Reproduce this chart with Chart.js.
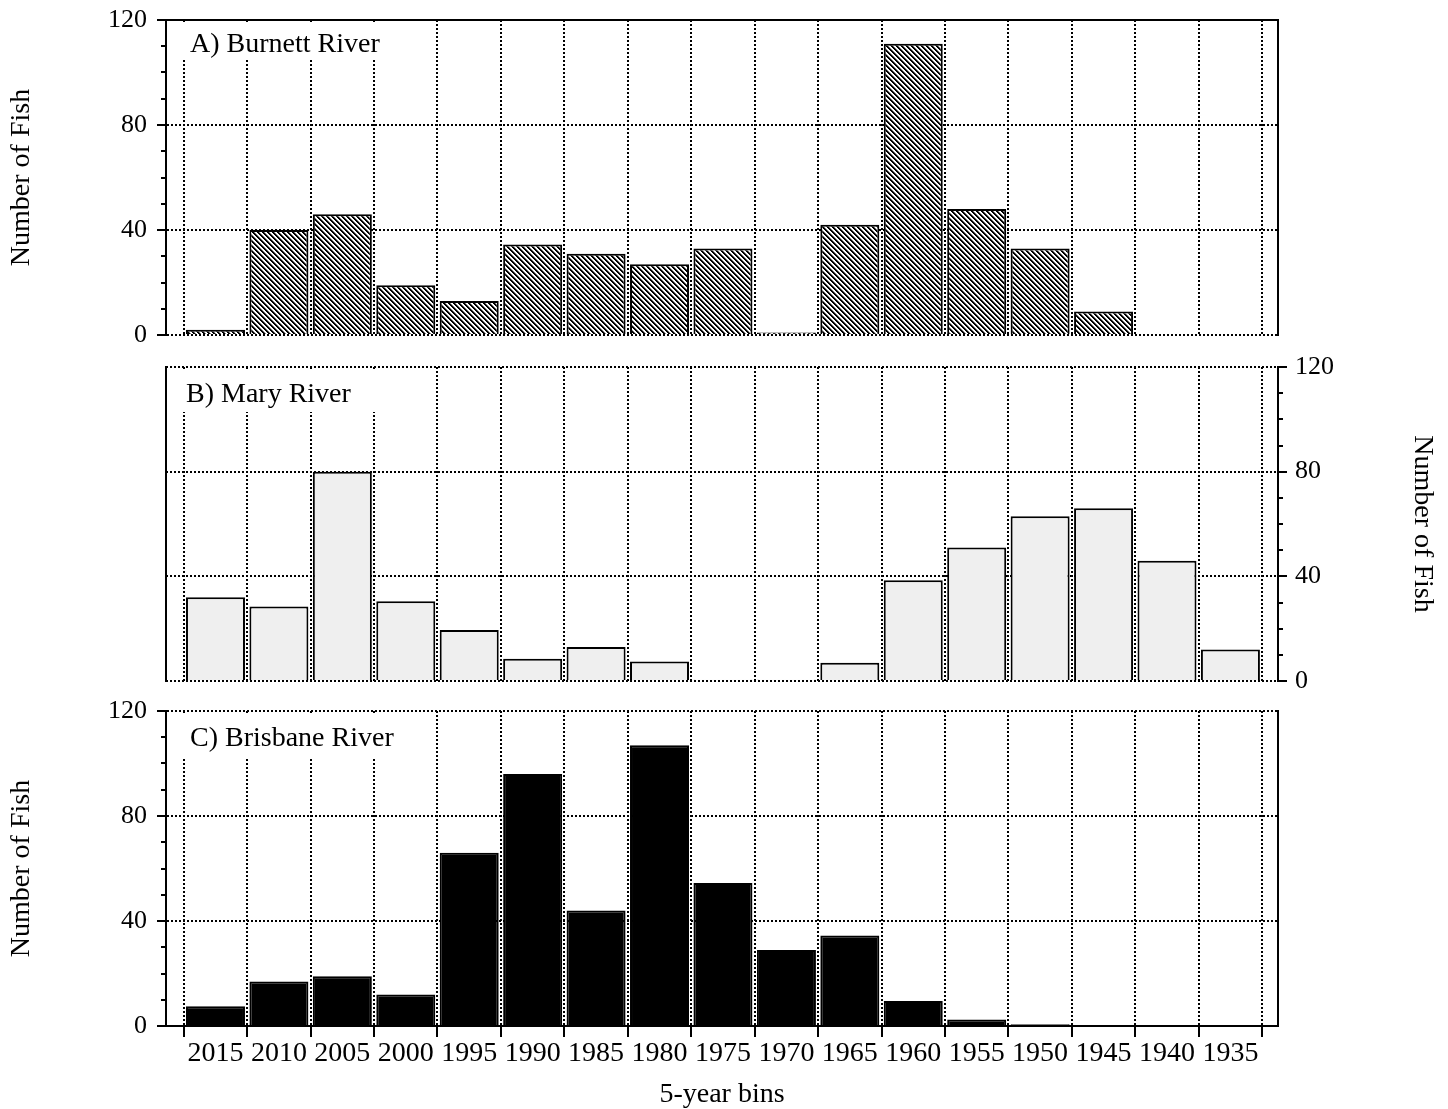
<!DOCTYPE html>
<html>
<head>
<meta charset="utf-8">
<script src="https://cdn.jsdelivr.net/npm/chart.js@4/dist/chart.umd.min.js"></script>
<style>
  body { margin: 0; background: #fff; width: 1448px; height: 1109px; position: relative; overflow: hidden; }
  canvas { position: absolute; left: 0; }
</style>
</head>
<body>
<canvas id="chartA" width="1448" height="395" style="top:-20px"></canvas>
<canvas id="chartB" width="1448" height="394" style="top:327px"></canvas>
<canvas id="chartC" width="1448" height="438" style="top:671px"></canvas>
<script>
// 5-year bins, newest first
const bins = ["2015", "2010", "2005", "2000", "1995", "1990", "1985", "1980", "1975",
  "1970", "1965", "1960", "1955", "1950", "1945", "1940", "1935"];
const burnett = [2, 40, 46, 19, 13, 34.5, 31, 27, 33, 1, 42, 111, 48, 33, 9, 0.4, 0.4];
const mary = [32, 28.5, 80, 30.5, 19.5, 8.5, 13, 7.5, 0.5, 0.5, 7, 38.5, 51, 63, 66, 46, 12];
const brisbane = [7.5, 17, 19, 12, 66, 96, 44, 107, 54.5, 29, 34.5, 9.5, 2.5, 0.7, 0, 0, 0];
const yMax = 120;

Chart.defaults.font.family = "'Liberation Serif', 'Times New Roman', serif";
Chart.defaults.font.size = 28;
Chart.defaults.color = "#000";

// diagonal hatching for the Burnett bars
function hatch() {
  const c = document.createElement("canvas");
  c.width = 5; c.height = 5;
  const g = c.getContext("2d");
  g.fillStyle = "#fff";
  g.fillRect(0, 0, 5, 5);
  for (let y = 0; y < 5; y++) {
    for (let x = 0; x < 5; x++) {
      const d = ((x - y) % 5 + 5) % 5;
      if (d < 2) { g.fillStyle = "#000"; g.fillRect(x, y, 1, 1); }
      else if (d === 2) { g.fillStyle = "#808080"; g.fillRect(x, y, 1, 1); }
    }
  }
  return g.createPattern(c, "repeat");
}

// panel label, solid frame edges and the tick marks
function framePlugin(cfg) {
  return {
    id: "frame",
    beforeDatasetsDraw(chart) {
      const { ctx, chartArea: a } = chart;
      ctx.save();
      ctx.fillStyle = "#fff";
      ctx.fillRect(a.left + 3, a.top + 2, 240, cfg.boxH);
      ctx.fillStyle = "#000";
      ctx.font = "28px 'Liberation Serif'";
      ctx.textBaseline = "alphabetic";
      ctx.fillText(cfg.title, a.left + cfg.titleX, a.top + cfg.titleY);
      ctx.restore();
    },
    afterDraw(chart) {
      const { ctx, chartArea: a, scales } = chart;
      ctx.save();
      ctx.strokeStyle = "#000";
      ctx.lineWidth = 2;
      ctx.beginPath();
      cfg.edges.forEach((e) => {
        if (e === "top") { ctx.moveTo(a.left - 1, a.top); ctx.lineTo(a.right + 1, a.top); }
        if (e === "left") { ctx.moveTo(a.left, a.top - 1); ctx.lineTo(a.left, a.bottom + 1); }
        if (e === "right") { ctx.moveTo(a.right, a.top - 1); ctx.lineTo(a.right, a.bottom + 1); }
      });
      for (let v = 0; v <= yMax; v += 10) {
        const py = Math.round(scales.y.getPixelForValue(v));
        const len = v % 40 === 0 ? 9 : 5;
        if (cfg.side === "left") { ctx.moveTo(a.left - len, py); ctx.lineTo(a.left, py); }
        else { ctx.moveTo(a.right, py); ctx.lineTo(a.right + len, py); }
      }
      if (cfg.xTicks) {
        for (let i = 0; i <= bins.length; i++) {
          const px = Math.round(scales.x.getPixelForValue(i));
          ctx.moveTo(px, a.bottom); ctx.lineTo(px, a.bottom + 11);
        }
      }
      ctx.stroke();
      ctx.restore();
    }
  };
}

function makePanel(id, values, fill, cfg) {
  const points = values.map((v, i) => ({ x: i + 0.5, y: v }));
  const left = cfg.side === "left";
  return new Chart(document.getElementById(id), {
    type: "bar",
    data: {
      datasets: [{
        data: points,
        backgroundColor: fill,
        borderColor: "#000",
        borderWidth: 2,
        categoryPercentage: 1,
        barPercentage: 1.86
      }]
    },
    options: {
      responsive: false,
      animation: false,
      layout: { padding: { top: 40, left: left ? 0 : 166, right: left ? 170 : 0, bottom: 0 } },
      plugins: { legend: { display: false }, tooltip: { enabled: false } },
      scales: {
        x: {
          type: "linear",
          min: -0.28,
          max: 17.25,
          offset: false,
          afterBuildTicks: (axis) => {
            const t = [];
            for (let i = 0; i <= bins.length * 2; i++) t.push({ value: i / 2 });
            axis.ticks = t;
          },
          afterFit: (axis) => { axis.height = cfg.xHeight; },
          grid: {
            offset: false,
            drawTicks: false,
            lineWidth: 2,
            color: (c) => (c.tick && !Number.isInteger(c.tick.value) ? "rgba(0,0,0,0)" : "#000")
          },
          border: { display: cfg.xTicks, width: 2, color: "#000", dash: [2, 2] },
          ticks: {
            display: cfg.xTicks,
            autoSkip: false,
            maxRotation: 0,
            padding: 11,
            callback: (v) => (Number.isInteger(v) ? "" : bins[Math.floor(v)])
          },
          title: {
            display: cfg.xTicks,
            text: "5-year bins",
            font: { size: 28, lineHeight: 1 },
            padding: 0
          }
        },
        y: {
          position: cfg.side,
          min: 0,
          max: yMax,
          ticks: { stepSize: 40, padding: left ? 19 : 17, font: { size: 26 } },
          afterFit: (axis) => { axis.width = left ? 166 : 170; },
          grid: { drawTicks: false, lineWidth: 2, color: "#000" },
          border: { display: true, width: 2, color: "#000", dash: [2, 2] },
          title: {
            display: true,
            text: "Number of Fish",
            font: { size: 28 },
            padding: { top: left ? 5 : 9, bottom: 0 }
          }
        }
      }
    },
    plugins: [framePlugin(cfg)]
  });
}

makePanel("chartA", burnett, hatch(), {
  side: "left", edges: ["top", "right"], xTicks: false, xHeight: 40,
  title: "A) Burnett River", titleX: 24, titleY: 32, boxH: 38
});
makePanel("chartB", mary, "#efefef", {
  side: "right", edges: ["left"], xTicks: false, xHeight: 40,
  title: "B) Mary River", titleX: 20, titleY: 35, boxH: 43
});
makePanel("chartC", brisbane, "#000", {
  side: "left", edges: ["right"], xTicks: true, xHeight: 83,
  title: "C) Brisbane River", titleX: 24, titleY: 35, boxH: 44
});
</script>
</body>
</html>
